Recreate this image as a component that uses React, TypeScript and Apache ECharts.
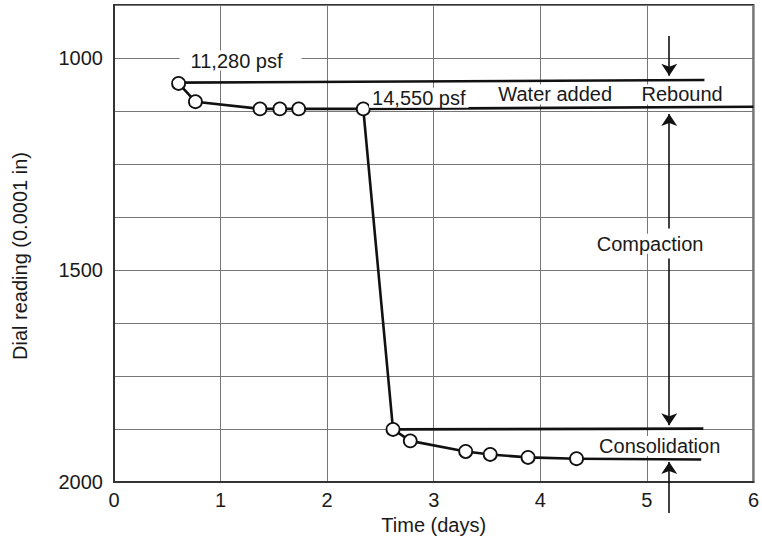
import React, { useEffect, useRef } from "react";
import * as echarts from "echarts";

// Dial readings (circles) — [time (days), dial reading (0.0001 in)]
const readingTimes = [0.606, 0.764, 1.37, 1.556, 1.733, 2.339, 2.618, 2.78, 3.3, 3.53, 3.885, 4.34];
const readingValues = [1060, 1103, 1120, 1120, 1120, 1120, 1876, 1903, 1928, 1935, 1942, 1945];

// Reference lines without markers
const line11280 = [[0.606, 1058], [5.54, 1052]];
const line14550 = [[2.339, 1120], [6.0, 1115]];
const lineCompactionEnd = [[2.618, 1876], [5.53, 1874]];
const lineConsolidationEnd = [[4.34, 1945], [5.51, 1947]];

// Arrows: [from, to]
const arrowX = 5.21;
const arrows = [
  [948, 1042],
  [1402, 1132],
  [1473, 1866],
  [2073, 1953],
];

// Annotations: [x, y, text]
const notes: [number, number, string][] = [
  [1.15, 1006, "11,280 psf"],
  [2.86, 1094, "14,550 psf"],
  [4.14, 1086, "Water added"],
  [5.33, 1086, "Rebound"],
  [5.03, 1438, "Compaction"],
  [5.12, 1915, "Consolidation"],
];

const yLabels = [1000, 1500, 2000];

const FONT = "Liberation Sans, Arial, Helvetica, sans-serif";
const INK = "#111";
const TXT = "#1a1a1a";
const FS = 20;

export default function App() {
  const ref = useRef<HTMLDivElement>(null);
  useEffect(() => {
    if (!ref.current) return;
    const chart = echarts.init(ref.current, undefined, { renderer: "svg" });
    const plain = (pts: number[][]) => ({
      type: "line",
      data: pts,
      symbol: "none",
      clip: false,
      lineStyle: { color: INK, width: 2.6 },
      z: 3,
    });
    const titleGraphic = {
      type: "text",
      x: 20,
      y: 256,
      rotation: Math.PI / 2,
      style: {
        text: "Dial reading (0.0001 in)",
        fill: TXT,
        font: `${FS}px ${FONT}`,
        align: "center",
        verticalAlign: "middle",
      },
    };
    chart.setOption({
      animation: false,
      textStyle: { fontFamily: FONT },
      grid: {
        left: 114,
        right: 4,
        top: 5,
        bottom: 61,
        show: true,
        borderColor: "#333",
        borderWidth: 2,
        backgroundColor: "transparent",
      },
      xAxis: {
        type: "value",
        min: 0,
        max: 6,
        interval: 1,
        name: "Time (days)",
        nameLocation: "middle",
        nameGap: 32,
        nameTextStyle: { fontSize: FS, color: TXT, fontFamily: FONT },
        axisLine: { show: true, lineStyle: { color: "#333", width: 2 } },
        axisTick: { show: false },
        axisLabel: { fontSize: FS, color: TXT, margin: 8, fontFamily: FONT },
        splitLine: { show: true, lineStyle: { color: "#777", width: 1 } },
      },
      yAxis: {
        type: "value",
        inverse: true,
        min: 875,
        max: 2000,
        interval: 125,
        axisLine: { show: true, lineStyle: { color: "#333", width: 2 } },
        axisTick: { show: false },
        axisLabel: {
          fontSize: FS,
          color: TXT,
          margin: 11,
          fontFamily: FONT,
          formatter: (v: number) => (yLabels.indexOf(v) >= 0 ? String(v) : ""),
        },
        splitLine: { show: true, lineStyle: { color: "#777", width: 1 } },
      },
      graphic: [titleGraphic],
      series: [
        plain(line11280),
        plain(line14550),
        plain(lineCompactionEnd),
        plain(lineConsolidationEnd),
        {
          type: "line",
          data: readingTimes.map((t, i) => [t, readingValues[i]]),
          symbol: "circle",
          symbolSize: 13,
          showAllSymbol: true,
          clip: false,
          lineStyle: { color: INK, width: 2.6 },
          itemStyle: { color: "#fff", borderColor: INK, borderWidth: 1.8 },
          z: 4,
        },
        {
          type: "lines",
          coordinateSystem: "cartesian2d",
          clip: false,
          symbol: ["none", "arrow"],
          symbolSize: [8, 12],
          lineStyle: { color: INK, width: 1.6, opacity: 1 },
          data: arrows.map((a) => ({ coords: [[arrowX, a[0]], [arrowX, a[1]]] })),
          z: 3,
        },
      ],
    });
    const noteGraphics = notes.map((n, i) => {
      const p = chart.convertToPixel({ gridIndex: 0 }, [n[0], n[1]]) as number[];
      const pad = i === 0 ? [0, 19, 0, 11] : [0, 3, 0, 3];
      // keep text centred on the point, the box may extend unevenly
      const shift = (pad[1] - pad[3]) / 2;
      return {
        type: "text",
        x: p[0] + shift,
        y: p[1],
        z: 100,
        style: {
          text: n[2],
          fill: TXT,
          font: `${FS}px ${FONT}`,
          align: "center",
          verticalAlign: "middle",
          backgroundColor: "#fff",
          padding: pad,
        },
      };
    });
    chart.setOption({ graphic: [titleGraphic, ...noteGraphics] }, { replaceMerge: ["graphic"] });
    return () => chart.dispose();
  }, []);
  return <div ref={ref} style={{ width: 762, height: 543, position: "absolute", left: 0, top: 0 }} />;
}
